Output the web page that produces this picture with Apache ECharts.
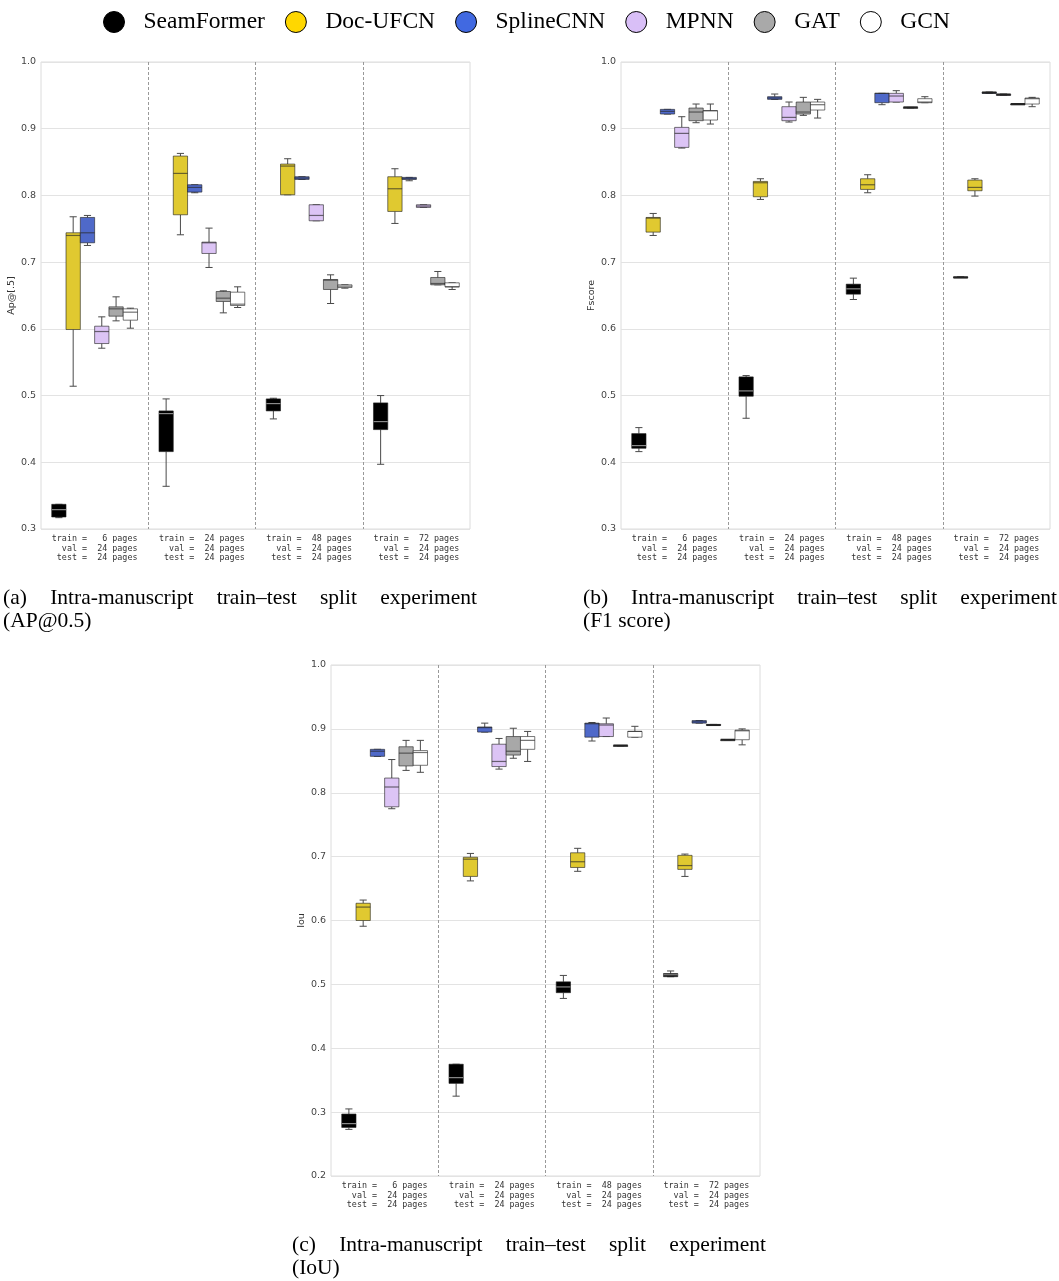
<!DOCTYPE html>
<html>
<head>
<meta charset="utf-8">
<script src="https://cdn.jsdelivr.net/npm/echarts@6/dist/echarts.min.js"></script>
<style>
  html, body { margin: 0; padding: 0; background: #fff; }
  #chart { position: absolute; left: 0; top: 0; width: 1059px; height: 1281px; }
  .cap {
    position: absolute; width: 474px;
    font-family: 'Liberation Serif', 'Times New Roman', serif;
    font-size: 21.5px; line-height: 23px; color: #000;
  }
  .cap .l1 { text-align: justify; text-align-last: justify; white-space: nowrap; }
</style>
</head>
<body>
<div id="chart"></div>
<div class="cap" style="left:3px; top:586px;"><div class="l1">(a) Intra-manuscript train–test split experiment</div><div>(AP@0.5)</div></div>
<div class="cap" style="left:583px; top:586px;"><div class="l1">(b) Intra-manuscript train–test split experiment</div><div>(F1 score)</div></div>
<div class="cap" style="left:292px; top:1233px;"><div class="l1">(c) Intra-manuscript train–test split experiment</div><div>(IoU)</div></div>
<script>
const splits = [
  'train =   6 pages\n  val =  24 pages\n test =  24 pages',
  'train =  24 pages\n  val =  24 pages\n test =  24 pages',
  'train =  48 pages\n  val =  24 pages\n test =  24 pages',
  'train =  72 pages\n  val =  24 pages\n test =  24 pages'
];
const models = ['SeamFormer', 'Doc-UFCN', 'SplineCNN', 'MPNN', 'GAT', 'GCN'];
const legendColors = ['#000000', '#FFD700', '#4169E1', '#D9BFF7', '#A9A9A9', '#FFFFFF'];
const boxColors = ['#000000', '#E0C930', '#4F69C9', '#DCC4F5', '#A8A8A8', '#FFFFFF'];

// [min, q1, median, q3, max] per split
const apSeamFormer = [[0.317, 0.318, 0.329, 0.337, 0.337], [0.364, 0.416, 0.473, 0.477, 0.495], [0.465, 0.477, 0.488, 0.495, 0.496], [0.397, 0.449, 0.461, 0.489, 0.500]];
const apDocUFCN = [[0.514, 0.599, 0.740, 0.744, 0.768], [0.741, 0.771, 0.833, 0.859, 0.863], [0.801, 0.801, 0.844, 0.847, 0.855], [0.758, 0.776, 0.810, 0.828, 0.840]];
const apSplineCNN = [[0.725, 0.729, 0.744, 0.767, 0.770], [0.804, 0.805, 0.812, 0.816, 0.816], [0.824, 0.824, 0.826, 0.828, 0.828], [0.822, 0.824, 0.825, 0.827, 0.827]];
const apMPNN = [[0.571, 0.578, 0.596, 0.604, 0.618], [0.692, 0.713, 0.729, 0.730, 0.751], [0.762, 0.762, 0.770, 0.786, 0.786], [0.782, 0.782, 0.784, 0.786, 0.786]];
const apGAT = [[0.612, 0.619, 0.630, 0.633, 0.648], [0.624, 0.641, 0.646, 0.656, 0.657], [0.638, 0.659, 0.673, 0.674, 0.681], [0.666, 0.666, 0.668, 0.677, 0.686]];
const apGCN = [[0.601, 0.613, 0.625, 0.630, 0.631], [0.632, 0.635, 0.637, 0.655, 0.663], [0.661, 0.662, 0.664, 0.666, 0.666], [0.659, 0.663, 0.663, 0.669, 0.669]];

const f1SeamFormer = [[0.416, 0.421, 0.425, 0.443, 0.452], [0.466, 0.499, 0.507, 0.528, 0.530], [0.644, 0.652, 0.660, 0.667, 0.676], [0.677, 0.677, 0.677, 0.678, 0.678]];
const f1DocUFCN = [[0.740, 0.745, 0.766, 0.767, 0.773], [0.794, 0.798, 0.819, 0.821, 0.825], [0.804, 0.809, 0.816, 0.825, 0.831], [0.799, 0.807, 0.812, 0.823, 0.825]];
const f1SplineCNN = [[0.922, 0.922, 0.926, 0.929, 0.929], [0.944, 0.944, 0.946, 0.948, 0.952], [0.936, 0.939, 0.953, 0.953, 0.953], [0.953, 0.953, 0.954, 0.955, 0.955]];
const f1MPNN = [[0.871, 0.872, 0.893, 0.902, 0.918], [0.910, 0.912, 0.917, 0.933, 0.940], [0.940, 0.940, 0.949, 0.953, 0.957], [0.950, 0.950, 0.951, 0.952, 0.952]];
const f1GAT = [[0.909, 0.912, 0.925, 0.931, 0.937], [0.920, 0.922, 0.925, 0.940, 0.947], [0.931, 0.931, 0.932, 0.932, 0.932], [0.937, 0.937, 0.937, 0.937, 0.937]];
const f1GCN = [[0.907, 0.913, 0.927, 0.927, 0.937], [0.916, 0.928, 0.936, 0.940, 0.944], [0.939, 0.939, 0.940, 0.945, 0.948], [0.933, 0.937, 0.945, 0.946, 0.947]];

const iouSeamFormer = [[0.273, 0.276, 0.282, 0.297, 0.305], [0.325, 0.345, 0.354, 0.375, 0.375], [0.478, 0.487, 0.496, 0.504, 0.514], [0.512, 0.512, 0.515, 0.517, 0.521]];
const iouDocUFCN = [[0.591, 0.600, 0.621, 0.627, 0.632], [0.662, 0.669, 0.696, 0.699, 0.705], [0.677, 0.683, 0.692, 0.706, 0.713], [0.669, 0.680, 0.686, 0.702, 0.704]];
const iouSplineCNN = [[0.857, 0.857, 0.865, 0.868, 0.868], [0.895, 0.895, 0.902, 0.903, 0.909], [0.881, 0.887, 0.908, 0.909, 0.910], [0.909, 0.909, 0.911, 0.913, 0.913]];
const iouMPNN = [[0.775, 0.778, 0.809, 0.823, 0.852], [0.837, 0.841, 0.849, 0.876, 0.885], [0.888, 0.888, 0.906, 0.908, 0.917], [0.906, 0.906, 0.906, 0.907, 0.907]];
const iouGAT = [[0.835, 0.842, 0.862, 0.872, 0.882], [0.854, 0.859, 0.865, 0.888, 0.901], [0.873, 0.873, 0.874, 0.874, 0.874], [0.882, 0.882, 0.883, 0.883, 0.883]];
const iouGCN = [[0.832, 0.843, 0.863, 0.866, 0.882], [0.849, 0.868, 0.882, 0.888, 0.896], [0.887, 0.887, 0.896, 0.896, 0.904], [0.875, 0.883, 0.897, 0.898, 0.900]];

const apData = [apSeamFormer, apDocUFCN, apSplineCNN, apMPNN, apGAT, apGCN];
const f1Data = [f1SeamFormer, f1DocUFCN, f1SplineCNN, f1MPNN, f1GAT, f1GCN];
const iouData = [iouSeamFormer, iouDocUFCN, iouSplineCNN, iouMPNN, iouGAT, iouGCN];

const panels = [
  { name: 'Ap@[.5]', min: 0.3, grid: { left: 41, top: 62, width: 429, height: 467 }, data: apData },
  { name: 'Fscore', min: 0.3, grid: { left: 621, top: 62, width: 429, height: 467 }, data: f1Data },
  { name: 'Iou', min: 0.2, grid: { left: 331, top: 665, width: 429, height: 511 }, data: iouData }
];

const edge = 'rgba(30,30,30,0.6)';
const whiskerColor = '#4a4a4a';

function boxRenderer(hue) {
  return function (params, api) {
    const cat = api.value(0);
    const band = api.size([1, 0])[0];
    const w = band * 0.8 / 6;
    const cx = api.coord([cat, api.value(3)])[0] + (hue - 2.5) * w;
    const yLo = api.coord([cat, api.value(1)])[1];
    const yQ1 = api.coord([cat, api.value(2)])[1];
    const yMed = api.coord([cat, api.value(3)])[1];
    const yQ3 = api.coord([cat, api.value(4)])[1];
    const yHi = api.coord([cat, api.value(5)])[1];
    const cap = w / 4;
    const line = { stroke: whiskerColor, lineWidth: 1 };
    const flat = yQ1 - yQ3 < 1.5;
    return {
      type: 'group',
      children: [
        { type: 'line', shape: { x1: cx, y1: yHi, x2: cx, y2: yQ3 }, style: line },
        { type: 'line', shape: { x1: cx, y1: yQ1, x2: cx, y2: yLo }, style: line },
        { type: 'line', shape: { x1: cx - cap, y1: yHi, x2: cx + cap, y2: yHi }, style: line },
        { type: 'line', shape: { x1: cx - cap, y1: yLo, x2: cx + cap, y2: yLo }, style: line },
        {
          type: 'rect',
          shape: { x: cx - w / 2, y: yQ3, width: w, height: Math.max(yQ1 - yQ3, 1) },
          style: { fill: boxColors[hue], stroke: edge, lineWidth: 1 }
        },
        {
          type: 'line',
          shape: { x1: cx - w / 2, y1: yMed, x2: cx + w / 2, y2: yMed },
          style: {
            stroke: hue === 0 && !flat ? '#8a8a8a' : (flat ? '#222' : 'rgba(40,40,40,0.65)'),
            lineWidth: flat ? 2 : 1.2
          }
        }
      ]
    };
  };
}

const grids = [], xAxes = [], yAxes = [], series = [];
panels.forEach((p, pi) => {
  grids.push(Object.assign({ show: true, borderColor: '#dcdcdc', borderWidth: 1, backgroundColor: 'transparent' }, p.grid));
  xAxes.push({
    type: 'category', gridIndex: pi, data: splits,
    axisLine: { show: false }, axisTick: { show: false },
    axisLabel: {
      interval: 0, margin: 5, color: '#333',
      fontFamily: 'DejaVu Sans Mono', fontSize: 8.4, lineHeight: 9.6
    },
    splitLine: {
      show: true, showMinLine: false, showMaxLine: false,
      lineStyle: { color: '#999', type: [3, 2], width: 1 }
    }
  });
  yAxes.push({
    type: 'value', gridIndex: pi, min: p.min, max: 1.0, interval: 0.1,
    name: p.name, nameLocation: 'middle', nameGap: 17,
    nameTextStyle: { color: '#333', fontFamily: 'DejaVu Sans', fontSize: 9.5 },
    axisLine: { show: false }, axisTick: { show: false },
    axisLabel: {
      margin: 5, color: '#444', fontFamily: 'DejaVu Sans', fontSize: 9.5,
      formatter: v => v.toFixed(1)
    },
    splitLine: { show: true, lineStyle: { color: '#e3e3e3', width: 1 } }
  });
  models.forEach((m, hue) => {
    series.push({
      name: m, type: 'custom', xAxisIndex: pi, yAxisIndex: pi,
      itemStyle: { color: legendColors[hue] },
      renderItem: boxRenderer(hue),
      encode: { x: 0, y: [1, 2, 3, 4, 5] },
      data: p.data[hue].map((d, i) => [i].concat(d))
    });
  });
});

const chart = echarts.init(document.getElementById('chart'));
chart.setOption({
  animation: false,
  backgroundColor: '#fff',
  legend: {
    left: 98, top: 5,
    itemWidth: 21, itemHeight: 21, itemGap: 20,
    icon: 'circle',
    textStyle: { fontFamily: 'Liberation Serif', fontSize: 23.5, color: '#000', padding: [0, 0, 0, 14] },
    data: models.map((m, i) => ({
      name: m,
      itemStyle: { color: legendColors[i], borderColor: '#000', borderWidth: 1 }
    }))
  },
  grid: grids,
  xAxis: xAxes,
  yAxis: yAxes,
  series: series
});
</script>
</body>
</html>
